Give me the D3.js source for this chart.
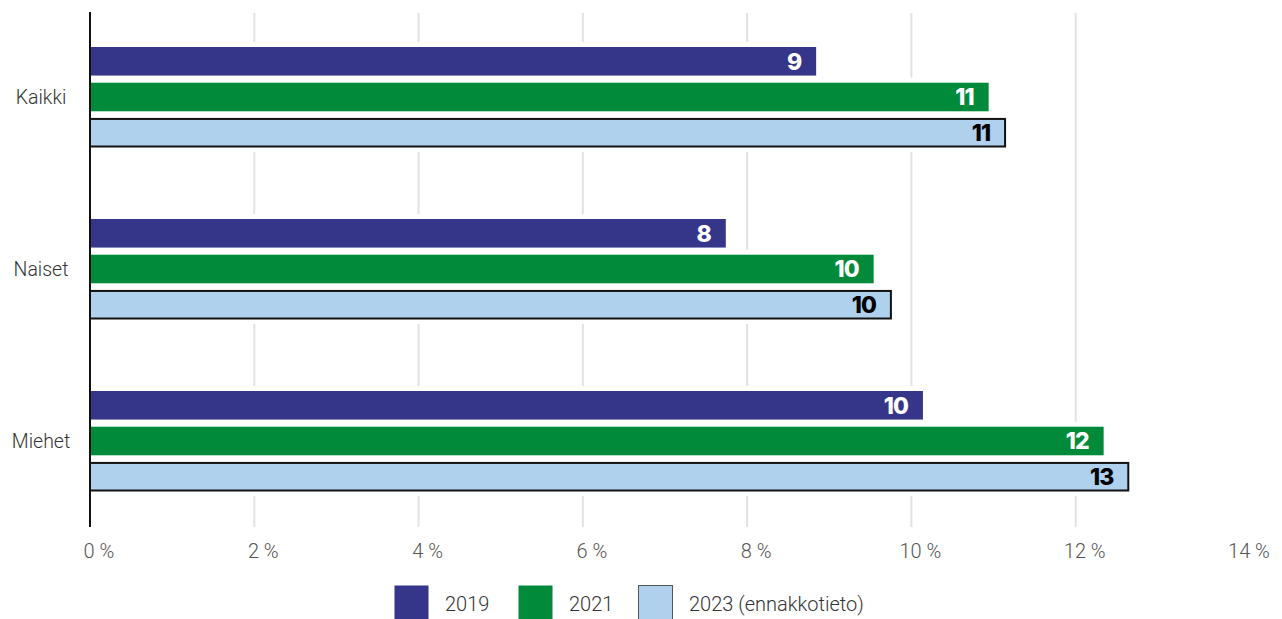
<!DOCTYPE html>
<html>
<head>
<meta charset="utf-8">
<script src="https://cdn.jsdelivr.net/npm/d3@7"></script>
<style>
  body { margin: 0; background: #fff; }
  svg { display: block; }
  .tick-label { font-family: Roboto, sans-serif; font-weight: 300; font-size: 20px; fill: #555; }
  .cat-label { font-family: Roboto, sans-serif; font-weight: 300; font-size: 19.5px; fill: #333; }
  .value-label { font-family: Inter, sans-serif; font-weight: 800; font-size: 23px; letter-spacing: -1px; }
  .legend-label { font-family: Roboto, sans-serif; font-weight: 300; font-size: 20px; fill: #333; }
</style>
</head>
<body>
<svg id="chart" width="1282" height="619"></svg>
<script>
// Data
var categories = ["Kaikki", "Naiset", "Miehet"];
var seriesNames = ["2019", "2021", "2023 (ennakkotieto)"];
var values2019 = [8.84, 7.74, 10.14];
var values2021 = [10.94, 9.54, 12.34];
var values2023 = [11.14, 9.75, 12.64];
var xTicks = [0, 2, 4, 6, 8, 10, 12, 14];

var seriesColors = ["#35368a", "#008a3a", "#b0d1ee"];
var labelColors = ["#fff", "#fff", "#000"];

var rows = categories.map(function(c, i) {
    return {
        category: c,
        values: [values2019[i], values2021[i], values2023[i]]
    };
});

var svg = d3.select("#chart");

var x = d3.scaleLinear().domain([0, 14]).range([90, 1240]);
var y = d3.scaleBand().domain(categories).range([11, 527]);
var ySeries = d3.scaleBand()
    .domain(d3.range(seriesNames.length))
    .range([36, 136])
    .paddingInner(0.2)
    .paddingOuter(0);

// GRID
svg.append("g")
    .attr("class", "grid")
    .selectAll("line")
    .data(xTicks.filter(function(t) { return t > 0 && t < 14; }))
    .join("line")
    .attr("x1", function(d) { return x(d); })
    .attr("x2", function(d) { return x(d); })
    .attr("y1", 13)
    .attr("y2", 527)
    .attr("stroke", "#e2e2e2")
    .attr("stroke-width", 2);

// BARS
var groups = svg.append("g")
    .attr("class", "bars")
    .selectAll("g")
    .data(rows)
    .join("g")
    .attr("transform", function(d) { return "translate(0," + y(d.category) + ")"; });

// white band behind each bar hides the grid between bars
groups.each(function(d) {
    var g = d3.select(this);
    d.values.forEach(function(v, i) {
        g.append("rect")
            .attr("x", x(0))
            .attr("y", ySeries(i) - 5)
            .attr("width", x(v) - x(0) + 2)
            .attr("height", ySeries.bandwidth() + 10)
            .attr("fill", "#fff");
    });
    d.values.forEach(function(v, i) {
        var isLast = i == 2;
        g.append("rect")
            .attr("x", x(0))
            .attr("y", ySeries(i) + (isLast ? 0.5 : 0))
            .attr("width", x(v) - x(0))
            .attr("height", ySeries.bandwidth() - (isLast ? 1 : 0))
            .attr("fill", seriesColors[i])
            .attr("stroke", isLast ? "#111" : "none")
            .attr("stroke-width", isLast ? 2 : 0);
        g.append("text")
            .attr("class", "value-label")
            .attr("x", x(v) - 15)
            .attr("y", ySeries(i) + ySeries.bandwidth() / 2)
            .attr("dy", "0.36em")
            .attr("text-anchor", "end")
            .attr("fill", labelColors[i])
            .text(d3.format(".0f")(v));
    });
});

// CATEGORY LABELS
svg.append("g")
    .selectAll("text")
    .data(categories)
    .join("text")
    .attr("class", "cat-label")
    .attr("x", 41)
    .attr("y", function(d) { return y(d) + y.bandwidth() / 2; })
    .attr("dy", "0.35em")
    .attr("text-anchor", "middle")
    .text(function(d) { return d; });

// Y AXIS LINE
svg.append("line")
    .attr("x1", x(0))
    .attr("x2", x(0))
    .attr("y1", 12)
    .attr("y2", 527)
    .attr("stroke", "#111")
    .attr("stroke-width", 2);

// X TICK LABELS
svg.append("g")
    .selectAll("text")
    .data(xTicks)
    .join("text")
    .attr("class", "tick-label")
    .attr("x", function(d) { return x(d) + 9; })
    .attr("y", 558)
    .attr("text-anchor", "middle")
    .text(function(d) { return d + " %"; });

// LEGEND
var legendX = [394, 518, 638];
var legend = svg.append("g")
    .selectAll("g")
    .data(seriesNames)
    .join("g")
    .attr("transform", function(d, i) { return "translate(" + legendX[i] + ",585)"; });
legend.append("rect")
    .attr("x", 0.5)
    .attr("y", 0.5)
    .attr("width", 34)
    .attr("height", 34)
    .attr("fill", function(d, i) { return seriesColors[i]; })
    .attr("stroke", function(d, i) { return i == 2 ? "#555" : "none"; })
    .attr("stroke-width", 1);
legend.append("text")
    .attr("class", "legend-label")
    .attr("x", 51)
    .attr("y", 26)
    .text(function(d) { return d; });
</script>
</body>
</html>
